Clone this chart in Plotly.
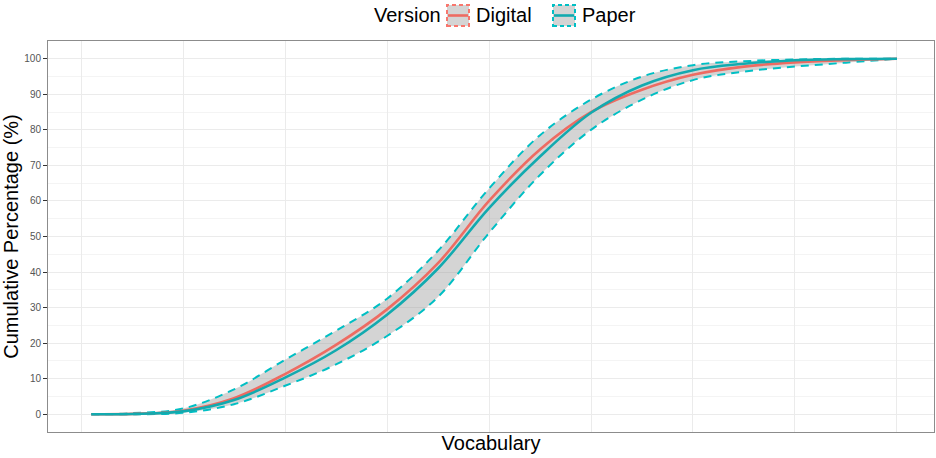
import plotly.graph_objects as go

# ---- data ----
vocab = [100, 500, 1000, 1500, 2000, 2500, 3000, 3500, 4000, 4500, 5000, 5500, 6000, 6500, 7000, 7500, 8000]
digital = [0, 0.1, 1.0, 4.5, 11.3, 19.5, 29.5, 42.5, 60.0, 74.5, 85.0, 91.3, 95.5, 97.8, 99.0, 99.6, 100]
paper = [0, 0.05, 0.8, 4.0, 10.3, 18.0, 28.0, 41.0, 58.0, 72.5, 84.8, 92.5, 96.8, 98.6, 99.6, 99.9, 100]
band_upper = [0, 0.3, 1.6, 7.0, 15.3, 23.5, 32.5, 46.0, 63.5, 78.5, 88.5, 95.0, 98.2, 99.3, 99.8, 100, 100]
band_lower = [0, 0.0, 0.4, 2.8, 8.0, 14.0, 22.0, 33.0, 51.0, 67.3, 80.0, 88.5, 94.0, 96.4, 97.8, 98.9, 100]
y_ticks = list(range(0, 101, 10))

RED = "#F8766D"
TEAL = "#00BFC4"
TEAL_LINE = "#12AAAF"
RED_LINE = "#EE6B62"

W, H = 936, 458
L, R, T, B = 48, 2, 41, 26
pw, ph = W - L - R, H - T - B

def px(x):
    return (x - L) / pw

def py(y):
    return (H - B - y) / ph

fig = go.Figure()

fig.add_trace(go.Scatter(x=vocab, y=band_lower, mode="lines", line=dict(color=TEAL, width=2, dash="8px,6px", shape="spline"),
                         showlegend=False, hoverinfo="skip"))
fig.add_trace(go.Scatter(x=vocab, y=band_upper, mode="lines", fill="tonexty", fillcolor="rgba(153,153,153,0.42)",
                         line=dict(color=TEAL, width=2, dash="8px,6px", shape="spline"),
                         showlegend=False, hoverinfo="skip"))
fig.add_trace(go.Scatter(x=vocab, y=digital, mode="lines", name="Digital",
                         line=dict(color=RED_LINE, width=2.6, shape="spline"), showlegend=False))
fig.add_trace(go.Scatter(x=vocab, y=paper, mode="lines", name="Paper",
                         line=dict(color=TEAL_LINE, width=2.6, shape="spline"), showlegend=False))

# custom legend (ggplot style key)
shapes = []
annotations = []
font = "Liberation Sans, Arial, sans-serif"
annotations.append(dict(x=px(372), y=py(15), xref="paper", yref="paper", text="Version", showarrow=False,
                        xanchor="left", yanchor="middle", font=dict(size=20, color="#000", family=font)))
for kx, tx, label, col, lcol in [(447, 474, "Digital", RED, RED_LINE), (553, 580, "Paper", TEAL, TEAL_LINE)]:
    shapes.append(dict(type="rect", xref="paper", yref="paper", x0=px(kx), x1=px(kx + 22), y0=py(26), y1=py(5),
                       fillcolor="rgba(153,153,153,0.42)", line=dict(color=col, width=2, dash="4px,3px"), layer="above"))
    shapes.append(dict(type="line", xref="paper", yref="paper", x0=px(kx + 1), x1=px(kx + 21), y0=py(15.5), y1=py(15.5),
                       line=dict(color=lcol, width=2.6), layer="above"))
    annotations.append(dict(x=px(tx), y=py(15), xref="paper", yref="paper", text=label, showarrow=False,
                            xanchor="left", yanchor="middle", font=dict(size=20, color="#000", family=font)))

fig.update_layout(
    width=W, height=H,
    margin=dict(l=L, r=R, t=T, b=B),
    paper_bgcolor="white", plot_bgcolor="white",
    showlegend=False,
    shapes=shapes, annotations=annotations,
    font=dict(family=font),
)
fig.update_xaxes(range=[-324, 8363], showticklabels=False, ticks="", dtick=1000, tick0=0,
                 showgrid=True, gridcolor="#EBEBEB", gridwidth=1, zeroline=False,
                 showline=True, linecolor="#8C8C8C", linewidth=1, mirror=True,
                 title=dict(text="Vocabulary", font=dict(size=20, color="#000"), standoff=3))
fig.update_yaxes(range=[-5, 105], tickvals=y_ticks, ticks="outside", ticklen=4, tickcolor="#333", tickwidth=1,
                 tickfont=dict(size=10, color="#555555"),
                 showgrid=True, gridcolor="#EBEBEB", gridwidth=1, zeroline=False,
                 minor=dict(dtick=5, tick0=5, showgrid=True, gridcolor="#F4F4F4", gridwidth=0.6, ticks=""),
                 showline=True, linecolor="#8C8C8C", linewidth=1, mirror=True,
                 title=dict(text="Cumulative Percentage (%)", font=dict(size=20, color="#000"), standoff=5))

fig.write_html("out.html")
